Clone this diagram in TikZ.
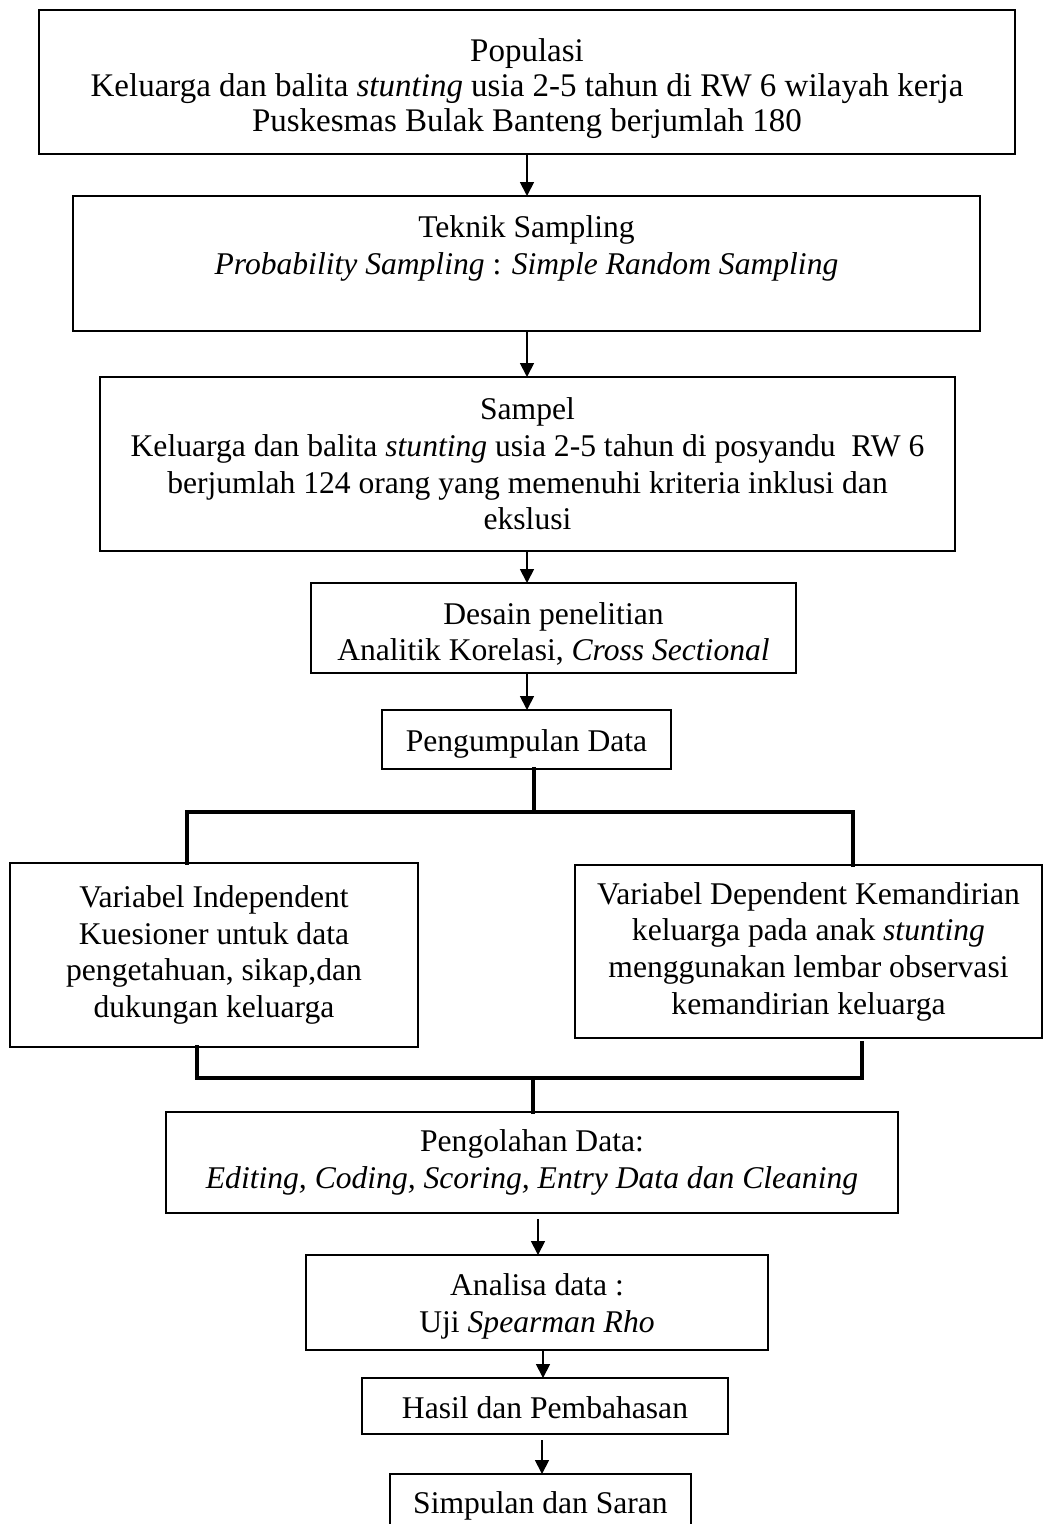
\documentclass[tikz,border=0pt]{standalone}
\usepackage{fontspec}
\setmainfont{Liberation Serif}
\usetikzlibrary{arrows.meta,calc}
\tikzset{
  box/.style={draw, line width=1.8pt, rectangle, inner sep=0pt, outer sep=0pt,
    align=center, font=\fontsize{31.6pt}{36.7pt}\selectfont},
  arr/.style={line width=1.8pt, -{Triangle[length=14pt,width=14pt]}},
  joinline/.style={line width=4pt, line cap=rect, line join=miter}
}
\newcommand{\upstrut}[1]{\rule{0pt}{#1}}
\begin{document}
\begin{tikzpicture}[x=1pt,y=-1pt]
\clip (0,0) rectangle (1044,1524);
\fill[white] (0,0) rectangle (1044,1524);

\node[box, line width=2.5pt, minimum width=976pt, minimum height=144pt,
      font=\fontsize{33pt}{35pt}\selectfont] (pop) at (527,82)
  {\upstrut{37pt}Populasi\\ Keluarga dan balita \textit{stunting} usia 2-5 tahun di RW 6 wilayah kerja\\ Puskesmas Bulak Banteng berjumlah 180};
\node[box, line width=2.2pt, minimum width=907pt, minimum height=135pt] (tek) at (526.5,263.5)
  {Teknik Sampling\\ \textit{Probability Sampling} : \textit{Simple Random Sampling}\\ \mbox{}};
\node[box, line width=2.2pt, minimum width=855pt, minimum height=174pt] (sam) at (527.5,464)
  {Sampel\\ Keluarga dan balita \textit{stunting} usia 2-5 tahun di posyandu\ \ RW 6\\ berjumlah 124 orang yang memenuhi kriteria inklusi dan\\ ekslusi};
\node[box, minimum width=485pt, minimum height=90pt] (des) at (553.5,628)
  {\upstrut{34pt}Desain penelitian\\ Analitik Korelasi, \textit{Cross Sectional}};
\node[box, minimum width=289pt, minimum height=59pt] (pen) at (526.5,739.5)
  {\upstrut{30pt}Pengumpulan Data};
\node[box, minimum width=408pt, minimum height=184pt] (vi) at (214,955)
  {Variabel Independent\\ Kuesioner untuk data\\ pengetahuan, sikap,dan\\ dukungan keluarga};
\node[box, minimum width=467pt, minimum height=173pt] (vd) at (808.5,951.5)
  {Variabel Dependent Kemandirian\\ keluarga pada anak \textit{stunting}\\ menggunakan lembar observasi\\ kemandirian keluarga};
\node[box, line width=2.2pt, minimum width=732pt, minimum height=101pt] (pol) at (532,1162.5)
  {Pengolahan Data:\\ \textit{Editing, Coding, Scoring, Entry Data dan Cleaning}};
\node[box, minimum width=462pt, minimum height=95pt] (ana) at (537,1302.5)
  {\upstrut{30pt}Analisa data :\\ Uji \textit{Spearman Rho}};
\node[box, minimum width=366pt, minimum height=56pt] (has) at (545,1406)
  {\upstrut{26pt}Hasil dan Pembahasan};
\node[box, minimum width=301pt, minimum height=64pt] (sim) at (540.5,1506)
  {Simpulan dan Saran};

% straight arrows
\coordinate (ax) at (527,0);
\draw[arr] (pop.south -| ax) -- (tek.north -| ax);
\draw[arr] (tek.south -| ax) -- (sam.north -| ax);
\draw[arr] (sam.south -| ax) -- (des.north -| ax);
\draw[arr] (des.south -| ax) -- (pen.north -| ax);

% branching connectors
\coordinate (jl) at (187,812);
\coordinate (jr) at (853,812);
\coordinate (jc) at (534,812);
\draw[joinline] (pen.south -| jc) -- (jc);
\draw[joinline] (jl |- vi.north) -- (jl) -- (jr) -- (jr |- vd.north);

\coordinate (bl) at (197,1078);
\coordinate (br) at (862,1078);
\coordinate (bc) at (533,1078);
\draw[joinline] (bl |- vi.south) -- (bl) -- (br) -- ($(br |- vd.south)+(0,5)$);
\draw[joinline] (bc) -- (bc |- pol.north);

\draw[arr] ($(pol.south)+(6,6)$) -- ($(ana.north)+(1,0)$);
\draw[arr] ($(ana.south)+(6,0)$) -- ($(has.north)+(-2,0)$);
\draw[arr] ($(has.south)+(-3,6)$) -- ($(sim.north)+(1.5,0)$);
\end{tikzpicture}
\end{document}
